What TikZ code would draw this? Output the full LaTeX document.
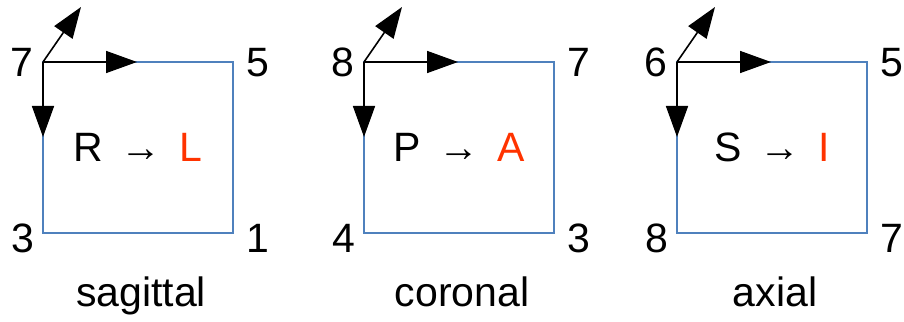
\documentclass[tikz,border=0pt]{standalone}
\usepackage{fontspec}
\setmainfont{Liberation Sans}
\usepackage{xcolor}
\usetikzlibrary{arrows.meta, positioning, calc}
\definecolor{frameblue}{RGB}{79,129,189}
\definecolor{targetred}{RGB}{255,51,0}

\begin{document}
\begin{tikzpicture}[
  x=0.5pt, y=0.5pt,
  font=\fontsize{20.5}{24}\selectfont,
  planebox/.style={
    draw=frameblue, line width=0.75pt, minimum width=95pt,
    minimum height=85.5pt, inner sep=0pt, outer sep=0pt, anchor=north west
  },
  axisarrow/.style={
    line width=0.8pt, -{Triangle[length=15.5pt, width=11pt]}
  },
  corner/.style={inner sep=0pt}
]
\useasboundingbox (0,0) rectangle (904,321);

\foreach \i/\x/\ctl/\ctr/\cbl/\cbr/\src/\dst/\plane in {
  1/43/7/5/3/1/R/L/sagittal,
  2/364/8/7/4/3/P/A/coronal,
  3/677/6/5/8/7/S/I/axial}{
  \node[planebox] (box\i) at (\x, 259)
    {\src\hspace{9pt}→\hspace{9pt}\textcolor{targetred}{\dst}};
  % corner numbers
  \node[corner, anchor=base east] (tl\i) at ($(box\i.north west)+(-9,-15)$) {\ctl};
  \node[corner, anchor=base west] (tr\i) at ($(box\i.north east)+(13,-15)$) {\ctr};
  \node[corner, anchor=base east] (bl\i) at ($(box\i.south west)+(-8,-20)$) {\cbl};
  \node[corner, anchor=base west] (br\i) at ($(box\i.south east)+(13,-20)$) {\cbr};
  % plane name
  \node[corner, anchor=base] (name\i) at ($(box\i.south)+(3,-73)$) {\plane};
  % axes from the first voxel
  \coordinate (xend\i) at ($(box\i.north west)+(94,0)$);
  \coordinate (yend\i) at ($(box\i.north west)+(0,-75)$);
  \coordinate (zend\i) at ($(box\i.north west)+(38,55)$);
  \draw[axisarrow] (box\i.north west) -- (xend\i);
  \draw[axisarrow] (box\i.north west) -- (yend\i);
  \draw[axisarrow] (box\i.north west) -- (zend\i);
}
\end{tikzpicture}
\end{document}
